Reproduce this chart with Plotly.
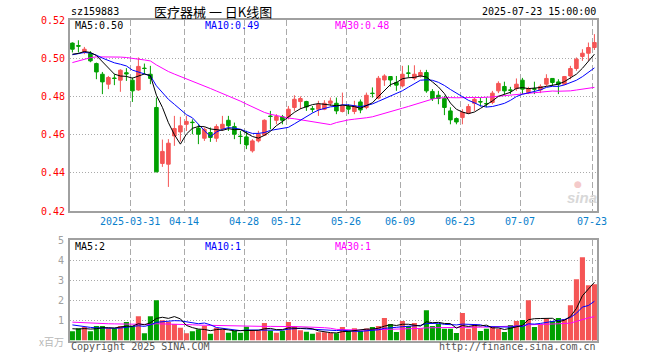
import math
import pandas as pd
import plotly.graph_objects as go

# ---------------- data ----------------
dates = [
    "2025-03-17", "2025-03-18", "2025-03-19", "2025-03-20", "2025-03-21", "2025-03-24", "2025-03-25",
    "2025-03-26", "2025-03-27", "2025-03-28", "2025-03-31",
    "2025-04-01", "2025-04-02", "2025-04-03", "2025-04-07", "2025-04-08", "2025-04-09", "2025-04-10",
    "2025-04-11", "2025-04-14", "2025-04-15", "2025-04-16", "2025-04-17", "2025-04-18", "2025-04-21",
    "2025-04-22", "2025-04-23", "2025-04-24", "2025-04-25", "2025-04-28", "2025-04-29", "2025-04-30",
    "2025-05-06", "2025-05-07", "2025-05-08", "2025-05-09", "2025-05-12", "2025-05-13", "2025-05-14",
    "2025-05-15", "2025-05-16", "2025-05-19", "2025-05-20", "2025-05-21", "2025-05-22", "2025-05-23",
    "2025-05-26", "2025-05-27", "2025-05-28", "2025-05-29", "2025-05-30",
    "2025-06-03", "2025-06-04", "2025-06-05", "2025-06-06", "2025-06-09", "2025-06-10", "2025-06-11",
    "2025-06-12", "2025-06-13", "2025-06-16", "2025-06-17", "2025-06-18", "2025-06-19", "2025-06-20",
    "2025-06-23", "2025-06-24", "2025-06-25", "2025-06-26", "2025-06-27", "2025-06-30",
    "2025-07-01", "2025-07-02", "2025-07-03", "2025-07-04", "2025-07-07", "2025-07-08", "2025-07-09",
    "2025-07-10", "2025-07-11", "2025-07-14", "2025-07-15", "2025-07-16", "2025-07-17", "2025-07-18",
    "2025-07-21", "2025-07-22", "2025-07-23",
]

opens = [
    .5079, .5066, .5035, .5025, .4972, .4916, .4864, .4896, .4885, .4924,
    .4885, .4834, .4948, .4916, .4742, .4449, .4445, .4593, .4614, .4654,
    .4665, .4634, .4581, .4611, .4581, .4632, .4675, .4642, .4592, .4588,
    .4515, .4567, .4597, .4697, .4675, .4693, .4693, .4742, .4773, .4773,
    .4735, .4733, .4733, .4764, .4764, .4721, .4747, .4721, .4771, .4742,
    .4817, .4791, .4886, .4904, .4873, .4855, .4923, .4895, .4907, .4925,
    .4826, .4806, .4789, .4724, .4684, .4689, .4712, .4764, .4773, .4763,
    .4768, .4829, .4852, .4834, .4841, .4885, .4820, .4840, .4834, .4864,
    .4894, .4876, .4864, .4907, .4946, .5009, .5026, .5056,
]
highs = [
    .5083, .5094, .5059, .5037, .4977, .4928, .4907, .4916, .4942, .4948,
    .4899, .5004, .4972, .4960, .4794, .4574, .4576, .4698, .4693, .4698,
    .4680, .4654, .4637, .4637, .4654, .4698, .4698, .4663, .4620, .4620,
    .4576, .4620, .4680, .4724, .4707, .4703, .4750, .4806, .4800, .4777,
    .4750, .4777, .4780, .4794, .4794, .4820, .4759, .4777, .4784, .4820,
    .4847, .4907, .4916, .4904, .4907, .4960, .4963, .4963, .4939, .4939,
    .4838, .4829, .4803, .4743, .4690, .4733, .4760, .4794, .4794, .4794,
    .4829, .4879, .4877, .4850, .4894, .4897, .4850, .4877, .4863, .4916,
    .4894, .4890, .4907, .4960, .5004, .5047, .5082, .5126,
]
lows = [
    .5030, .5030, .5021, .4979, .4890, .4812, .4838, .4859, .4824, .4881,
    .4771, .4829, .4916, .4864, .4403, .4431, .4326, .4541, .4564, .4619,
    .4602, .4550, .4567, .4562, .4562, .4619, .4619, .4576, .4550, .4524,
    .4506, .4559, .4593, .4628, .4654, .4654, .4680, .4724, .4733, .4724,
    .4716, .4698, .4728, .4750, .4707, .4716, .4707, .4707, .4712, .4733,
    .4794, .4785, .4855, .4851, .4829, .4847, .4899, .4885, .4899, .4819,
    .4776, .4759, .4702, .4654, .4654, .4654, .4707, .4724, .4747, .4743,
    .4759, .4817, .4812, .4812, .4829, .4812, .4812, .4812, .4817, .4855,
    .4855, .4812, .4860, .4890, .4934, .4986, .4986, .5043,
]
closes = [
    .5047, .5063, .5047, .4986, .4928, .4876, .4899, .4894, .4937, .4918,
    .4829, .4957, .4946, .4894, .4405, .4512, .4555, .4632, .4646, .4669,
    .4663, .4602, .4628, .4585, .4642, .4654, .4646, .4602, .4590, .4546,
    .4567, .4602, .4675, .4695, .4695, .4675, .4733, .4785, .4789, .4745,
    .4733, .4759, .4764, .4776, .4724, .4750, .4733, .4750, .4729, .4806,
    .4815, .4895, .4907, .4886, .4859, .4916, .4921, .4916, .4925, .4829,
    .4789, .4789, .4742, .4677, .4666, .4716, .4747, .4785, .4771, .4761,
    .4817, .4868, .4829, .4832, .4864, .4838, .4841, .4838, .4852, .4894,
    .4873, .4864, .4904, .4946, .4995, .5026, .5056, .5082,
]
# volume in millions (x百万)
volumes = [
    0.47, 0.61, 0.68, 0.47, 0.72, 0.72, 0.61, 0.61, 0.72, 0.92,
    0.72, 1.21, 0.37, 1.21, 2.00, 1.01, 0.93, 0.82, 0.64, 0.37,
    0.47, 0.57, 0.72, 0.34, 0.64, 0.57, 0.39, 0.49, 0.39, 0.69,
    0.49, 0.49, 0.87, 0.49, 0.39, 0.49, 0.92, 0.72, 0.52, 0.44,
    0.34, 0.41, 0.41, 0.38, 0.36, 0.67, 0.48, 0.62, 0.48, 0.60,
    0.67, 0.72, 1.12, 0.82, 0.43, 0.97, 0.72, 0.87, 0.62, 1.51,
    0.72, 0.82, 0.59, 0.59, 0.38, 1.37, 0.59, 0.82, 0.48, 0.59,
    0.67, 0.59, 0.43, 0.77, 0.97, 1.02, 2.01, 0.67, 0.82, 1.08,
    0.97, 1.12, 1.07, 1.76, 3.05, 4.14, 2.75, 2.80,
]
# sessions before the visible window (estimated from the moving-average lines)
prior_closes = [
    .4765, .4772, .4790, .4797, .4860, .4895, .4930, .4955,
    .4985, .5010, .5040, .5065, .5050, .5030, .5045, .5060, .5035, .5010, .5020, .5016,
    .4990, .5000, .5015, .5040, .5030,
    .5043, .4997, .5011, .5007,
]
prior_volumes = [
    1.2, 0.9, 0.8, 1.1, 1.3, 0.9, 0.8, 1.0, 1.1, 0.9,
    1.2, 1.0, 0.8, 0.9, 1.1, 1.0, 0.9, 1.0, 0.9, 0.9,
    1.1, 0.9, 1.0, 0.95, 0.9,
    0.7, 0.55, 0.6, 0.63,
]
tick_dates = ["2025-03-31", "2025-04-14", "2025-04-28", "2025-05-12", "2025-05-26",
              "2025-06-09", "2025-06-23", "2025-07-07", "2025-07-23"]
tick_labels = ["2025-03-31", "04-14", "04-28", "05-12", "05-26", "06-09", "06-23", "07-07", "07-23"]
price_ticks = [0.42, 0.44, 0.46, 0.48, 0.50, 0.52]
volume_ticks = [1, 2, 3, 4, 5]

# ---------------- helpers ----------------
W, H = 660, 360
def px(x):
    return x / W
def py(y):
    return 1 - y / H

RED = "#f55555"
GREEN = "#00a000"
GRID = "#aaaaaa"
BORDER = "#a0a0a0"
MONO = "DejaVu Sans Mono"
MA_COLORS = {5: "#000000", 10: "#0000ff", 30: "#ff00ff"}

idx = list(range(len(dates)))
npre = len(prior_closes)
cs = pd.Series(prior_closes + closes)
vs = pd.Series(prior_volumes + volumes)
ma_p = {n: cs.rolling(n).mean().tolist()[npre:] for n in (5, 10, 30)}
ma_v = {n: vs.rolling(n).mean().tolist()[npre:] for n in (5, 10, 30)}

fig = go.Figure()
fig.add_trace(go.Candlestick(
    x=idx, open=opens, high=highs, low=lows, close=closes,
    increasing=dict(line=dict(color=RED, width=1), fillcolor=RED),
    decreasing=dict(line=dict(color=GREEN, width=1), fillcolor=GREEN),
    whiskerwidth=0, xaxis="x", yaxis="y", hoverinfo="skip",
))
for n in (30, 10, 5):
    fig.add_trace(go.Scatter(x=idx, y=ma_p[n], mode="lines",
                             line=dict(color=MA_COLORS[n], width=1),
                             xaxis="x", yaxis="y", hoverinfo="skip"))

vol_colors = [RED if c >= o else GREEN for o, c in zip(opens, closes)]
fig.add_trace(go.Bar(x=idx, y=volumes, marker=dict(color=vol_colors, line=dict(width=0)),
                     xaxis="x2", yaxis="y2", hoverinfo="skip"))
for n in (30, 10, 5):
    fig.add_trace(go.Scatter(x=idx, y=ma_v[n], mode="lines",
                             line=dict(color=MA_COLORS[n], width=1),
                             xaxis="x2", yaxis="y2", hoverinfo="skip"))

tick_pos = [dates.index(d) - 0.35 for d in tick_dates]
xrange_ = [-0.4, len(dates) - 1 + 0.43]
xdom = [px(70), px(597)]

common_x = dict(range=xrange_, domain=xdom, showgrid=True, gridcolor=GRID, gridwidth=1,
                griddash="6px,3px", tickvals=tick_pos, zeroline=False, showline=True,
                mirror=True, linecolor=BORDER, linewidth=2, ticks="", fixedrange=True,
                automargin=False, showticklabels=False)
common_y = dict(showgrid=True, gridcolor=GRID, gridwidth=1, griddash="1px,2px",
                zeroline=False, showline=True, mirror=True, linecolor=BORDER, linewidth=2,
                ticks="", fixedrange=True, automargin=False, showticklabels=False)

fig.update_layout(
    width=W, height=H, margin=dict(l=0, r=0, t=0, b=0, pad=0, autoexpand=False),
    paper_bgcolor="white", plot_bgcolor="white", showlegend=False,
    bargap=0.15, boxgap=0.15,
    xaxis=dict(common_x, anchor="y", rangeslider=dict(visible=False)),
    yaxis=dict(common_y, domain=[py(211), py(20)], range=[0.42, 0.52], tickvals=price_ticks),
    xaxis2=dict(common_x, anchor="y2", matches="x"),
    yaxis2=dict(common_y, domain=[py(340.6), py(240)], range=[0, 5], tickvals=volume_ticks),
)

def trunc(v, d):
    f = 10 ** d
    return math.floor(v * f) / f

annotations = []
def note(text, x, y, anchor="left", color="#000000", size=10, family=MONO, valign="middle",
         xref="paper", yref="paper"):
    annotations.append(dict(text=text, x=px(x) if xref == "paper" else x,
                            y=py(y) if yref == "paper" else y, xref=xref, yref=yref,
                            xanchor=anchor, yanchor=valign, showarrow=False,
                            font=dict(family=family, size=size, color=color)))

# axis labels (positioned through the axes' own scales)
for v in price_ticks:
    note("%.2f" % v, 67, v, anchor="right", color="#ff0000", yref="y")
for v in volume_ticks:
    note(str(v), 66, v, anchor="right", color="#a0a0a0", yref="y2")
for pos, lab in zip(tick_pos, tick_labels):
    note(lab, pos, 221, anchor="center", color="#0a80cc", xref="x")

note("sz159883", 69, 12)
note("医疗器械 一 日K线图", 213, 12, anchor="center", size=13, family="Noto Sans CJK SC")
note("2025-07-23 15:00:00", 598, 12, anchor="right")
x_ma = {5: 73, 10: 203, 30: 333}
for n in (5, 10, 30):
    note("MA%d:%.2f" % (n, trunc(ma_p[n][-1], 2)), x_ma[n], 26, color=MA_COLORS[n])
    note("MA%d:%d" % (n, int(math.floor(ma_v[n][-1]))), x_ma[n], 246, color=MA_COLORS[n])
note("x百万", 66, 341, anchor="right", color="#b8b8b8", size=10, family="Noto Sans CJK SC")
note("Copyright 2025 SINA.COM", 69, 346, color="#555555")
note("http://finance.sina.com.cn", 598, 346, anchor="right", color="#555555")
note("<i><b>sina</b></i>", 582, 197, anchor="center", color="#d8d8d8", size=15, family="Liberation Sans")
note("●", 578, 184, anchor="center", color="#f4caca", size=9, family="DejaVu Sans")

fig.update_layout(annotations=annotations)
fig.write_html("out.html", config={"displayModeBar": False, "staticPlot": True})

# remove the browser's default page margin so the 660x360 figure fills the window
with open("out.html", "r", encoding="utf-8") as f:
    html = f.read()
html = html.replace("<head>", "<head><style>html,body{margin:0;padding:0;overflow:hidden}</style>", 1)
with open("out.html", "w", encoding="utf-8") as f:
    f.write(html)
